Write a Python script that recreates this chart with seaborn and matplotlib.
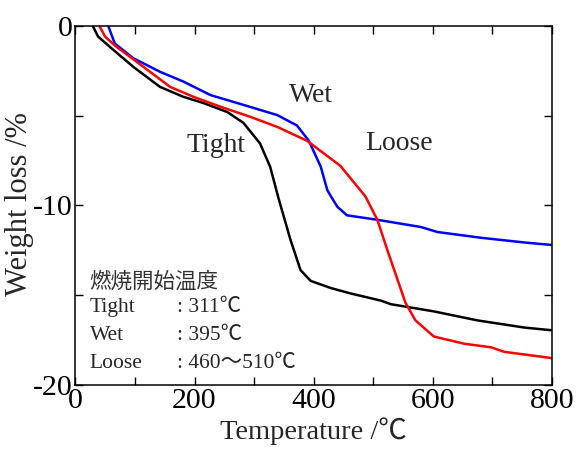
import matplotlib
matplotlib.use("Agg")
import matplotlib.pyplot as plt
import seaborn as sns
import pandas as pd

# ---- data ----
tight_t = [29, 38, 64, 97, 142, 181, 215, 255, 282, 310, 327, 341, 361, 378, 395, 429, 462, 513, 530, 602, 675, 754, 800]
tight_w = [0, -0.6, -1.35, -2.28, -3.4, -3.95, -4.3, -4.8, -5.4, -6.55, -7.85, -9.6, -11.9, -13.6, -14.2, -14.6, -14.9, -15.3, -15.5, -15.9, -16.4, -16.8, -16.95]

wet_t = [55, 66, 97, 142, 181, 227, 282, 339, 372, 392, 412, 423, 431, 440, 456, 507, 580, 608, 681, 759, 800]
wet_w = [0, -0.98, -1.8, -2.56, -3.1, -3.86, -4.4, -4.97, -5.55, -6.4, -7.85, -9.15, -9.6, -10.08, -10.55, -10.8, -11.2, -11.48, -11.8, -12.08, -12.2]

loose_t = [40, 50, 69, 114, 159, 198, 243, 294, 339, 389, 445, 487, 507, 524, 554, 571, 602, 653, 698, 720, 800]
loose_w = [0, -0.61, -1.17, -2.28, -3.4, -3.95, -4.5, -5.07, -5.63, -6.4, -7.8, -9.5, -10.8, -12.5, -15.4, -16.4, -17.3, -17.7, -17.9, -18.15, -18.5]

series_names = ["Tight", "Wet", "Loose"]
series_colors = ["black", "#0000ff", "#ff0000"]

x_ticks = [0, 100, 200, 300, 400, 500, 600, 700, 800]
x_ticklabels = ["0", "", "200", "", "400", "", "600", "", "800"]
y_ticks = [-20, -15, -10, -5, 0]
y_ticklabels = ["-20", "", "-10", "", "0"]

note_title = "燃焼開始温度"
note_names = ["Tight", "Wet", "Loose"]
note_values = [": 311℃", ": 395℃", ": 460～510℃"]

# ---- build table ----
frames = []
for name, t, w in zip(series_names, [tight_t, wet_t, loose_t], [tight_w, wet_w, loose_w]):
    frames.append(pd.DataFrame({"T": t, "W": w, "sample": name}))
df = pd.concat(frames, ignore_index=True)

sns.set_style("ticks")
plt.rcParams["font.family"] = ["Liberation Serif", "Noto Sans CJK JP", "DejaVu Sans"]
plt.rcParams["axes.unicode_minus"] = False

fig = plt.figure(figsize=(5.76, 4.53), dpi=100)
ax = fig.add_axes([0.131, 0.150, 0.827, 0.793])

sns.lineplot(data=df, x="T", y="W", hue="sample", hue_order=series_names,
             palette=series_colors, linewidth=1.8, legend=False, ax=ax, sort=False)

ax.set_xlim(0, 800)
ax.set_ylim(-20, 0)
ax.set_xticks(x_ticks)
ax.set_xticklabels(x_ticklabels)
ax.set_yticks(y_ticks)
ax.set_yticklabels(y_ticklabels)
ax.tick_params(direction="in", length=6, width=1, top=True, right=True,
               labelsize=21.5, colors="black", pad=2)
for s in ax.spines.values():
    s.set_visible(True)
    s.set_linewidth(1.1)
    s.set_color("black")

ax.set_xlabel("Temperature /℃", fontsize=20.5)
ax.set_ylabel("Weight loss /%", fontsize=22)
ax.xaxis.set_label_coords(0.5, -0.09)
ax.yaxis.set_label_coords(-0.086, 0.505)

ax.text(236, -6.65, "Tight", fontsize=20, ha="center", va="center")
ax.text(395, -3.86, "Wet", fontsize=20, ha="center", va="center")
ax.text(543, -6.54, "Loose", fontsize=20, ha="center", va="center")

ax.text(24, -14.3, note_title, fontsize=15.5, ha="left", va="center", color="#333333")
rows_y = [-15.67, -17.23, -18.79]
for n, v, yy in zip(note_names, note_values, rows_y):
    ax.text(24, yy, n, fontsize=15.5, ha="left", va="center")
    ax.text(171, yy, v, fontsize=15.5, ha="left", va="center")

fig.savefig("out.png", dpi=100)
